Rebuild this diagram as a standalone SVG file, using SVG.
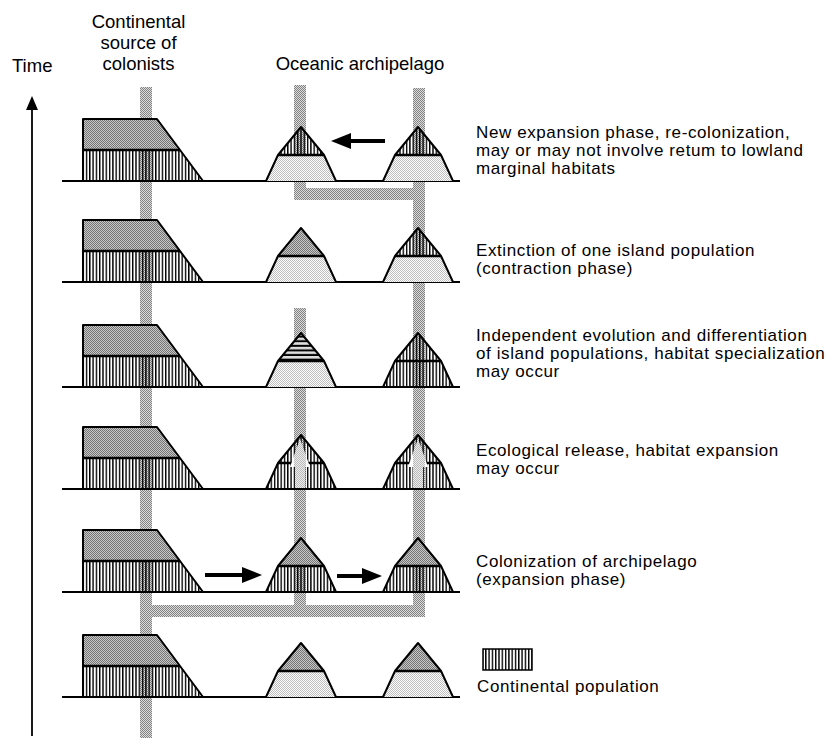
<svg xmlns="http://www.w3.org/2000/svg" width="835" height="738" viewBox="0 0 835 738">
<style>
.t{font-family:"Liberation Sans",Arial,Helvetica,sans-serif;font-size:18.5px;fill:#000}
.cap{font-size:17px;letter-spacing:0.6px}
.c{text-anchor:middle}
.ol{fill:none;stroke:#000;stroke-width:2;stroke-linejoin:round}
.dv{stroke:#000;stroke-width:2.6;fill:none}
.base{stroke:#000;stroke-width:2}
.mg{fill:url(#mg)}
.lg{fill:url(#lg)}
.vh{fill:url(#vh)}
.hs{fill:url(#hs)}
.band{fill:url(#bd)}
.arr{stroke:#000;stroke-width:4;fill:none;marker-end:url(#ah)}
.wa{fill:#fff}
</style>
<defs>
<pattern id="vh" width="3.3" height="10" patternUnits="userSpaceOnUse"><rect x="0" y="0" width="1.4" height="10" fill="#000"/></pattern>
<pattern id="mg" width="2" height="2" patternUnits="userSpaceOnUse"><rect width="2" height="2" fill="#c8c8c8"/><rect width="1" height="1" fill="#747474"/><rect x="1" y="1" width="1" height="1" fill="#747474"/></pattern>
<pattern id="lg" width="2" height="2" patternUnits="userSpaceOnUse"><rect width="2" height="2" fill="#ffffff"/><rect width="1" height="1" fill="#bdbdbd"/><rect x="1" y="1" width="1" height="1" fill="#bdbdbd"/></pattern>
<pattern id="bd" width="2" height="2" patternUnits="userSpaceOnUse"><rect width="2" height="2" fill="#dcdcdc"/><rect width="1" height="1" fill="#828282"/><rect x="1" y="1" width="1" height="1" fill="#828282"/></pattern>
<pattern id="hs" width="10" height="4.6" patternUnits="userSpaceOnUse" y="333"><rect width="10" height="4.6" fill="#dedede"/><rect y="2.6" width="10" height="2" fill="#000"/></pattern>
<marker id="ah" viewBox="0 -8 20 16" markerWidth="20" markerHeight="16" markerUnits="userSpaceOnUse" refX="1" refY="0" orient="auto"><path d="M0,-8 L20,0 L0,8 Z" fill="#000"/></marker>
<clipPath id="wac">
<polygon points="300,439 310,467 305,467 305,488 295,488 295,467 290,467"/>
<polygon points="418,439 428,467 423,467 423,488 413,488 413,467 408,467"/>
</clipPath>
</defs>

<g id="labels">
<text class="t" x="12" y="72">Time</text>
<text class="t c" x="138.5" y="28">Continental</text>
<text class="t c" x="138.5" y="49">source of</text>
<text class="t c" x="138.5" y="70">colonists</text>
<text class="t c" x="360" y="70">Oceanic archipelago</text>
</g>

<g id="time-axis">
<line x1="32" y1="108" x2="32" y2="736" stroke="#000" stroke-width="1.8"/>
<polygon points="32,96 26,110 38,110" fill="#000"/>
</g>

<g id="lineages">
<rect class="band" x="140" y="87" width="12" height="651"/>
<rect class="band" x="294" y="85" width="12" height="115"/>
<rect class="band" x="294" y="188" width="131" height="12"/>
<rect class="band" x="413" y="88" width="12" height="529"/>
<rect class="band" x="294" y="308" width="12" height="309"/>
<rect class="band" x="142" y="605" width="283" height="12"/>
</g>

<g id="baselines">
<line class="base" x1="62" y1="181" x2="460" y2="181"/>
<line class="base" x1="62" y1="282" x2="460" y2="282"/>
<line class="base" x1="62" y1="387" x2="460" y2="387"/>
<line class="base" x1="62" y1="489" x2="460" y2="489"/>
<line class="base" x1="62" y1="592" x2="460" y2="592"/>
<line class="base" x1="62" y1="697" x2="460" y2="697"/>
</g>

<!-- Row 1 -->
<g id="r1-continent">
<polygon class="mg" points="83,150 83,119 157,119 180,150"/>
<polygon class="vh" points="83,181 83,150 180,150 203,181"/>
<path class="ol" d="M83,181 V119 H157 L203,181"/>
<line class="dv" x1="83" y1="150" x2="180" y2="150"/>
</g>
<g id="r1-island1">
<polygon class="lg" points="266,181 278,155 324,155 336,181"/>
<polygon class="vh" points="278,155 301,127 324,155"/>
<line class="dv" x1="278" y1="155" x2="324" y2="155"/>
<path class="ol" d="M266,181 L278,155 L301,127 L324,155 L336,181"/>
</g>
<g id="r1-island2">
<polygon class="lg" points="383,181 395,155 441,155 453,181"/>
<polygon class="vh" points="395,155 418,127 441,155"/>
<line class="dv" x1="395" y1="155" x2="441" y2="155"/>
<path class="ol" d="M383,181 L395,155 L418,127 L441,155 L453,181"/>
</g>

<!-- Row 2 -->
<g id="r2-continent">
<polygon class="mg" points="83,251 83,220 157,220 180,251"/>
<polygon class="vh" points="83,282 83,251 180,251 203,282"/>
<path class="ol" d="M83,282 V220 H157 L203,282"/>
<line class="dv" x1="83" y1="251" x2="180" y2="251"/>
</g>
<g id="r2-island1">
<polygon class="lg" points="266,282 278,256 324,256 336,282"/>
<polygon class="mg" points="278,256 301,228 324,256"/>
<line class="dv" x1="278" y1="256" x2="324" y2="256"/>
<path class="ol" d="M266,282 L278,256 L301,228 L324,256 L336,282"/>
</g>
<g id="r2-island2">
<polygon class="lg" points="383,282 395,256 441,256 453,282"/>
<polygon class="vh" points="395,256 418,228 441,256"/>
<line class="dv" x1="395" y1="256" x2="441" y2="256"/>
<path class="ol" d="M383,282 L395,256 L418,228 L441,256 L453,282"/>
</g>

<!-- Row 3 -->
<g id="r3-continent">
<polygon class="mg" points="83,356 83,325 157,325 180,356"/>
<polygon class="vh" points="83,387 83,356 180,356 203,387"/>
<path class="ol" d="M83,387 V325 H157 L203,387"/>
<line class="dv" x1="83" y1="356" x2="180" y2="356"/>
</g>
<g id="r3-island1">
<polygon class="lg" points="266,387 278,361 324,361 336,387"/>
<polygon class="hs" points="278,361 301,333 324,361"/>
<line class="dv" x1="278" y1="361" x2="324" y2="361"/>
<path class="ol" d="M266,387 L278,361 L301,333 L324,361 L336,387"/>
</g>
<g id="r3-island2">
<polygon class="vh" points="383,387 395,361 418,333 441,361 453,387"/>
<line class="dv" x1="395" y1="361" x2="441" y2="361"/>
<path class="ol" d="M383,387 L395,361 L418,333 L441,361 L453,387"/>
</g>

<!-- Row 4 -->
<g id="r4-continent">
<polygon class="mg" points="83,458 83,427 157,427 180,458"/>
<polygon class="vh" points="83,489 83,458 180,458 203,489"/>
<path class="ol" d="M83,489 V427 H157 L203,489"/>
<line class="dv" x1="83" y1="458" x2="180" y2="458"/>
</g>
<g id="r4-island1">
<polygon class="vh" points="266,489 278,463 301,435 324,463 336,489"/>
<line class="dv" x1="278" y1="463" x2="324" y2="463"/>
<polygon class="wa" points="300,439 310,467 305,467 305,488 295,488 295,467 290,467"/>
<rect class="band" x="294" y="430" width="12" height="60" clip-path="url(#wac)" opacity="0.55"/>
<path class="ol" d="M266,489 L278,463 L301,435 L324,463 L336,489"/>
</g>
<g id="r4-island2">
<polygon class="vh" points="383,489 395,463 418,435 441,463 453,489"/>
<line class="dv" x1="395" y1="463" x2="441" y2="463"/>
<polygon class="wa" points="418,439 428,467 423,467 423,488 413,488 413,467 408,467"/>
<rect class="band" x="413" y="430" width="12" height="60" clip-path="url(#wac)" opacity="0.55"/>
<path class="ol" d="M383,489 L395,463 L418,435 L441,463 L453,489"/>
</g>

<!-- Row 5 -->
<g id="r5-continent">
<polygon class="mg" points="83,561 83,530 157,530 180,561"/>
<polygon class="vh" points="83,592 83,561 180,561 203,592"/>
<path class="ol" d="M83,592 V530 H157 L203,592"/>
<line class="dv" x1="83" y1="561" x2="180" y2="561"/>
</g>
<g id="r5-island1">
<polygon class="vh" points="266,592 278,566 324,566 336,592"/>
<polygon class="mg" points="278,566 301,538 324,566"/>
<line class="dv" x1="278" y1="566" x2="324" y2="566"/>
<path class="ol" d="M266,592 L278,566 L301,538 L324,566 L336,592"/>
</g>
<g id="r5-island2">
<polygon class="vh" points="383,592 395,566 441,566 453,592"/>
<polygon class="mg" points="395,566 418,538 441,566"/>
<line class="dv" x1="395" y1="566" x2="441" y2="566"/>
<path class="ol" d="M383,592 L395,566 L418,538 L441,566 L453,592"/>
</g>

<!-- Row 6 -->
<g id="r6-continent">
<polygon class="mg" points="83,666 83,635 157,635 180,666"/>
<polygon class="vh" points="83,697 83,666 180,666 203,697"/>
<path class="ol" d="M83,697 V635 H157 L203,697"/>
<line class="dv" x1="83" y1="666" x2="180" y2="666"/>
</g>
<g id="r6-island1">
<polygon class="lg" points="266,697 278,671 324,671 336,697"/>
<polygon class="mg" points="278,671 301,643 324,671"/>
<line class="dv" x1="278" y1="671" x2="324" y2="671"/>
<path class="ol" d="M266,697 L278,671 L301,643 L324,671 L336,697"/>
</g>
<g id="r6-island2">
<polygon class="lg" points="383,697 395,671 441,671 453,697"/>
<polygon class="mg" points="395,671 418,643 441,671"/>
<line class="dv" x1="395" y1="671" x2="441" y2="671"/>
<path class="ol" d="M383,697 L395,671 L418,643 L441,671 L453,697"/>
</g>

<g id="connectors">
<line class="arr" x1="385" y1="141" x2="350" y2="141"/>
<line class="arr" x1="205" y1="575" x2="243" y2="575"/>
<line class="arr" x1="337" y1="576" x2="363" y2="576"/>
</g>

<g id="captions">
<text class="t cap" x="476" y="137.5">New expansion phase, re-colonization,</text>
<text class="t cap" x="476" y="155.5">may or may not involve retum to lowland</text>
<text class="t cap" x="476" y="173.5">marginal habitats</text>
<text class="t cap" x="476" y="256">Extinction of one island population</text>
<text class="t cap" x="476" y="274">(contraction phase)</text>
<text class="t cap" x="476" y="341">Independent evolution and differentiation</text>
<text class="t cap" x="476" y="359">of island populations, habitat specialization</text>
<text class="t cap" x="476" y="377">may occur</text>
<text class="t cap" x="476" y="455.5">Ecological release, habitat expansion</text>
<text class="t cap" x="476" y="473.5">may occur</text>
<text class="t cap" x="476" y="567">Colonization of archipelago</text>
<text class="t cap" x="476" y="585">(expansion phase)</text>
</g>

<g id="legend">
<rect x="483" y="649" width="49" height="21" fill="url(#vh)" stroke="#000" stroke-width="1.5"/>
<text class="t cap" x="477" y="692">Continental population</text>
</g>
</svg>
